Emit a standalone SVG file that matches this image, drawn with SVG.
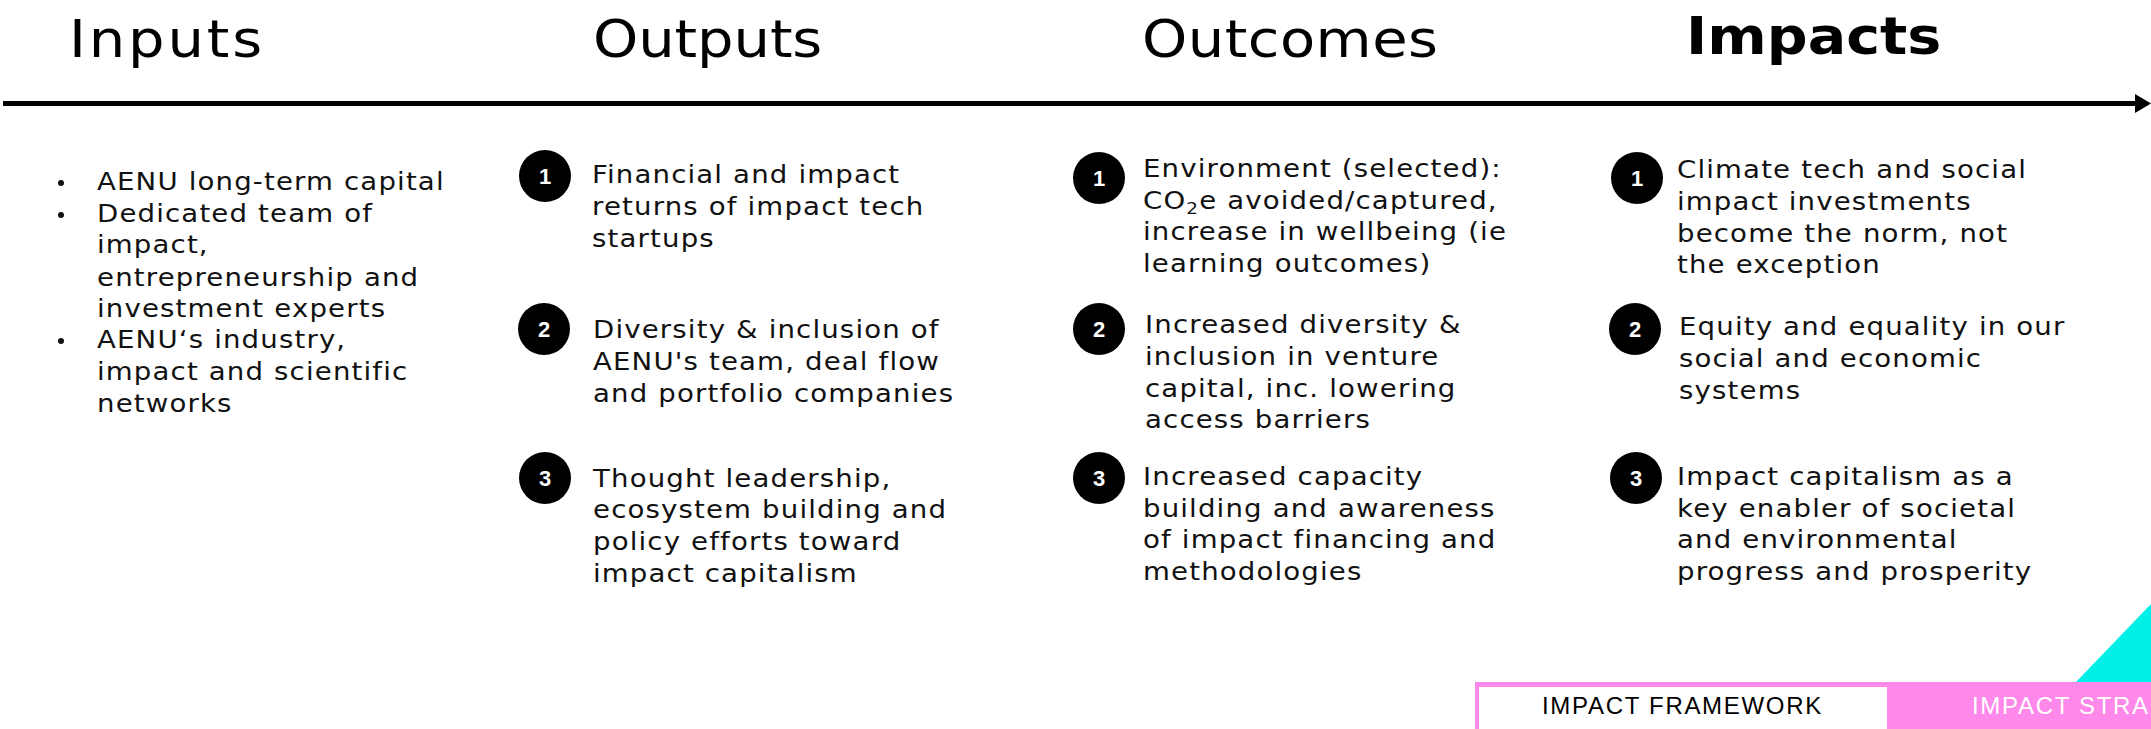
<svg xmlns="http://www.w3.org/2000/svg" width="2151" height="729" viewBox="0 0 2151 729">
<style>
.h{font-family:"DejaVu Sans",sans-serif;font-size:51px;fill:#000}
.hb{font-weight:bold}
.t{font-family:"DejaVu Sans",sans-serif;font-size:24px;letter-spacing:1px;fill:#111}
.c{fill:#000}
.n{font-family:"Liberation Sans",Arial,sans-serif;font-size:22px;font-weight:bold;fill:#fff;text-anchor:middle}
.b{fill:#111}
.bar{font-family:"Liberation Sans",Arial,sans-serif;font-size:24px;letter-spacing:1.7px}
</style>
<defs>
<marker id="ah" viewBox="0 0 16 19" refX="1" refY="9.5" markerWidth="16" markerHeight="19" markerUnits="userSpaceOnUse" orient="auto">
<path d="M0,0 L16,9.5 L0,19 Z" fill="#000"/>
</marker>
</defs>
<rect width="2151" height="729" fill="#fff"/>

<g id="headers">
<g transform="translate(69,0) scale(1.13,1)"><text class="h" x="0" y="57" textLength="171" lengthAdjust="spacing">Inputs</text></g>
<g transform="translate(593,0) scale(1.13,1)"><text class="h" x="0" y="57" textLength="203" lengthAdjust="spacing">Outputs</text></g>
<g transform="translate(1142,0) scale(1.13,1)"><text class="h" x="0" y="57" textLength="262" lengthAdjust="spacing">Outcomes</text></g>
<g transform="translate(1686,0) scale(1.12,1)"><text class="h hb" x="0" y="54" textLength="228" lengthAdjust="spacing">Impacts</text></g>
</g>

<g id="connectors">
<line x1="3" y1="103.5" x2="2136" y2="103.5" stroke="#000" stroke-width="5" marker-end="url(#ah)"/>
</g>

<g id="inputs">
<circle class="b" cx="61" cy="183" r="3"/>
<circle class="b" cx="61" cy="215" r="3"/>
<circle class="b" cx="61" cy="341" r="3"/>
<g transform="translate(97,0) scale(1.15,1)">
<text class="t" x="0" y="190">AENU long-term capital</text>
<text class="t" x="0" y="222">Dedicated team of</text>
<text class="t" x="0" y="253">impact,</text>
<text class="t" x="0" y="286">entrepreneurship and</text>
<text class="t" x="0" y="317">investment experts</text>
<text class="t" x="0" y="348">AENU‘s industry,</text>
<text class="t" x="0" y="380">impact and scientific</text>
<text class="t" x="0" y="412">networks</text>
</g>
</g>

<g id="output-1">
<circle class="c" cx="545" cy="176" r="26"/><text class="n" x="545" y="184">1</text>
<g transform="translate(592,0) scale(1.15,1)">
<text class="t" x="0" y="183">Financial and impact</text>
<text class="t" x="0" y="215">returns of impact tech</text>
<text class="t" x="0" y="247">startups</text>
</g>
</g>
<g id="output-2">
<circle class="c" cx="544" cy="329" r="26"/><text class="n" x="544" y="337">2</text>
<g transform="translate(593,0) scale(1.15,1)">
<text class="t" x="0" y="338">Diversity &amp; inclusion of</text>
<text class="t" x="0" y="370">AENU's team, deal flow</text>
<text class="t" x="0" y="402">and portfolio companies</text>
</g>
</g>
<g id="output-3">
<circle class="c" cx="545" cy="478" r="26"/><text class="n" x="545" y="486">3</text>
<g transform="translate(593,0) scale(1.15,1)">
<text class="t" x="0" y="487">Thought leadership,</text>
<text class="t" x="0" y="518">ecosystem building and</text>
<text class="t" x="0" y="550">policy efforts toward</text>
<text class="t" x="0" y="582">impact capitalism</text>
</g>
</g>

<g id="outcome-1">
<circle class="c" cx="1099" cy="178" r="26"/><text class="n" x="1099" y="186">1</text>
<g transform="translate(1143,0) scale(1.15,1)">
<text class="t" x="0" y="177">Environment (selected):</text>
<text class="t" x="0" y="209">CO<tspan font-size="16" dy="5">2</tspan><tspan dy="-5">e avoided/captured,</tspan></text>
<text class="t" x="0" y="240">increase in wellbeing (ie</text>
<text class="t" x="0" y="272">learning outcomes)</text>
</g>
</g>
<g id="outcome-2">
<circle class="c" cx="1099" cy="329" r="26"/><text class="n" x="1099" y="337">2</text>
<g transform="translate(1145,0) scale(1.15,1)">
<text class="t" x="0" y="333">Increased diversity &amp;</text>
<text class="t" x="0" y="365">inclusion in venture</text>
<text class="t" x="0" y="397">capital, inc. lowering</text>
<text class="t" x="0" y="428">access barriers</text>
</g>
</g>
<g id="outcome-3">
<circle class="c" cx="1099" cy="478" r="26"/><text class="n" x="1099" y="486">3</text>
<g transform="translate(1143,0) scale(1.15,1)">
<text class="t" x="0" y="485">Increased capacity</text>
<text class="t" x="0" y="517">building and awareness</text>
<text class="t" x="0" y="548">of impact financing and</text>
<text class="t" x="0" y="580">methodologies</text>
</g>
</g>

<g id="impact-1">
<circle class="c" cx="1637" cy="178" r="26"/><text class="n" x="1637" y="186">1</text>
<g transform="translate(1677,0) scale(1.15,1)">
<text class="t" x="0" y="178">Climate tech and social</text>
<text class="t" x="0" y="210">impact investments</text>
<text class="t" x="0" y="242">become the norm, not</text>
<text class="t" x="0" y="273">the exception</text>
</g>
</g>
<g id="impact-2">
<circle class="c" cx="1635" cy="329" r="26"/><text class="n" x="1635" y="337">2</text>
<g transform="translate(1679,0) scale(1.15,1)">
<text class="t" x="0" y="335">Equity and equality in our</text>
<text class="t" x="0" y="367">social and economic</text>
<text class="t" x="0" y="399">systems</text>
</g>
</g>
<g id="impact-3">
<circle class="c" cx="1636" cy="478" r="26"/><text class="n" x="1636" y="486">3</text>
<g transform="translate(1677,0) scale(1.15,1)">
<text class="t" x="0" y="485">Impact capitalism as a</text>
<text class="t" x="0" y="517">key enabler of societal</text>
<text class="t" x="0" y="548">and environmental</text>
<text class="t" x="0" y="580">progress and prosperity</text>
</g>
</g>

<g id="footer">
<polygon points="2076,682 2151,604 2151,690" fill="#00EFE6"/>
<rect x="1475" y="682" width="676" height="47" fill="#FF88EB"/>
<rect x="1479" y="687" width="408" height="42" fill="#fff"/>
<text class="bar" x="1542" y="714" fill="#000">IMPACT FRAMEWORK</text>
<text class="bar" x="1972" y="714" fill="#fff">IMPACT STRA</text>
</g>
</svg>
